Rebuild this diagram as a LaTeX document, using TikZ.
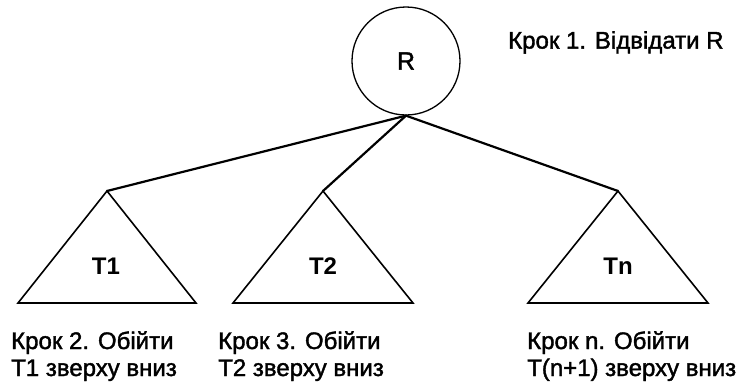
\documentclass[tikz,border=0pt]{standalone}
\usepackage{fontspec}
\setmainfont{Liberation Sans}
\newfontfamily\capfont[FakeBold=1.6]{Liberation Sans}
\begin{document}
\begin{tikzpicture}[x=1pt,y=-1pt,
  txt/.style={font=\fontsize{24}{27}\selectfont\capfont, inner sep=0pt, anchor=north west, align=left},
  sub/.style={font=\fontsize{24}{27}\selectfont\bfseries, inner sep=0pt},
  edge/.style={line width=2.2pt, line cap=round},
  tri/.style={draw, line width=1.6pt, line join=miter},
]
\useasboundingbox (0,0) rectangle (744,383);

% root vertex
\node[circle, draw, line width=1.3pt, minimum size=108pt, inner sep=0pt,
      font=\fontsize{25}{27}\selectfont\capfont] (R) at (406,61) {R};

% apexes of the subtrees
\coordinate (a1) at (107,191);
\coordinate (a2) at (323,191);
\coordinate (an) at (618,191);

% subtrees
\draw[tri] (a1) -- (196,303) -- (18,303) -- cycle;
\draw[tri] (a2) -- (413,303) -- (233,303) -- cycle;
\draw[tri] (an) -- (708,303) -- (528,303) -- cycle;

\node[sub] (t1) at (106,266) {T1};
\node[sub] (t2) at (323,266) {T2};
\node[sub] (tn) at (618,266) {Tn};

% edges from the root
\draw[edge] (R.south) -- (a1);
\draw[edge] (R.south) -- (a2);
\draw[edge] (R.south) -- (an);

% step captions
\node[txt] (s1) at (508,31) {Крок 1. Відвідати R};
\node[txt] (s2) at (11,331) {Крок 2. Обійти\\T1 зверху вниз};
\node[txt] (s3) at (218,331) {Крок 3. Обійти\\T2 зверху вниз};
\node[txt] (sn) at (527,331) {Крок n. Обійти\\T(n+1) зверху вниз};
\end{tikzpicture}
\end{document}
